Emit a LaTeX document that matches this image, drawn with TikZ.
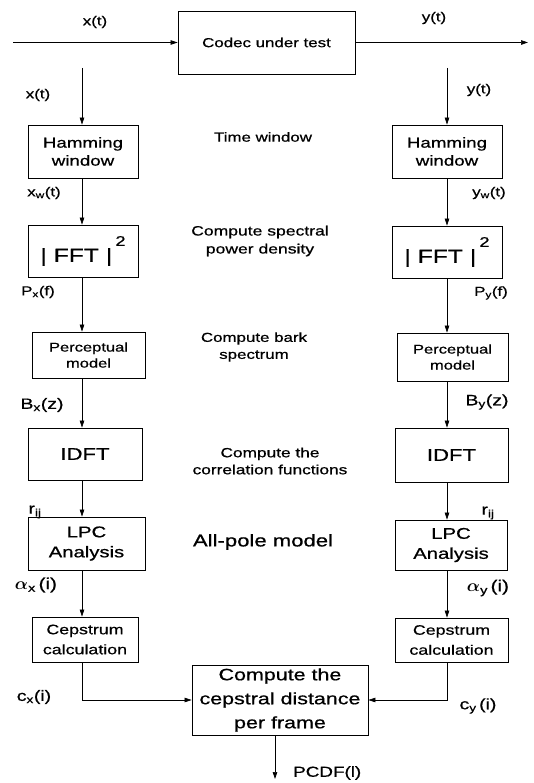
\documentclass[tikz,border=0pt]{standalone}
\usepackage{amsmath}
\usepackage{fontspec}
\setmainfont{Liberation Sans}[FakeStretch=1.3,FakeBold=0.7]
\usetikzlibrary{arrows.meta}
\newcommand\lsub[1]{$_{\textrm{#1}}$}
\newcommand\fsz[2]{\fontsize{#1}{#2}\selectfont}
\begin{document}
\begin{tikzpicture}[x=1pt,y=-1pt,
  box/.style={draw, line width=0.8pt, inner sep=0pt, align=center},
  lbl/.style={inner sep=0pt, align=center, font=\fsz{13}{17}},
  arr/.style={-{Triangle[length=7pt,width=4.5pt]}, line width=0.7pt}]
\useasboundingbox (0,0) rectangle (534,783);
% columns and free ends
\coordinate (cL) at (82,0);
\coordinate (cR) at (447,0);
\coordinate (in) at (13,42.5);
\coordinate (out) at (528,42.5);
\coordinate (tL) at (82,68);
\coordinate (tR) at (447,68);
\coordinate (oc) at (275,779);
% boxes
\node[box, minimum width=177pt, minimum height=63pt, font=\fsz{13}{16}] (codec) at (266.5,42.5) {Codec under test};
\node[box, minimum width=110pt, minimum height=53pt, font=\fsz{14.4}{18}] (hamL) at (83,151.5) {Hamming\\window};
\node[box, minimum width=110pt, minimum height=53pt, font=\fsz{14.4}{18}] (hamR) at (447,151.5) {Hamming\\window};
\node[box, minimum width=110pt, minimum height=52pt, font=\fsz{19}{22}] (fftL) at (83,251) {| FFT |\,\raisebox{16pt}{\fsz{14}{16}2}};
\node[box, minimum width=110pt, minimum height=52pt, font=\fsz{19}{22}] (fftR) at (447,252) {| FFT |\,\raisebox{16pt}{\fsz{14}{16}2}};
\node[box, minimum width=113pt, minimum height=46pt, font=\fsz{12.7}{16}] (perL) at (88.5,355) {Perceptual\\model};
\node[box, minimum width=111pt, minimum height=48pt, font=\fsz{12.7}{16}] (perR) at (452.5,357) {Perceptual\\model};
\node[box, minimum width=114pt, minimum height=52pt, font=\fsz{17}{20}] (idftL) at (85,454) {IDFT};
\node[box, minimum width=113pt, minimum height=54pt, font=\fsz{17}{20}] (idftR) at (451.5,455) {IDFT};
\node[box, minimum width=117pt, minimum height=53pt, font=\fsz{15.6}{20}] (lpcL) at (86.5,543.5) {LPC\\Analysis};
\node[box, minimum width=112pt, minimum height=50pt, font=\fsz{15.6}{20}] (lpcR) at (451,545) {LPC\\Analysis};
\node[box, minimum width=106pt, minimum height=45pt, font=\fsz{13.7}{20}] (cepL) at (85,639.5) {Cepstrum\\calculation};
\node[box, minimum width=113pt, minimum height=44pt, font=\fsz{13.7}{20}] (cepR) at (451.5,640) {Cepstrum\\calculation};
\node[box, minimum width=176pt, minimum height=70pt, font=\fsz{16.5}{24}] (comp) at (280,700) {Compute the\\cepstral distance\\per frame};
% middle descriptions
\node[lbl] (d1) at (263,137) {Time window};
\node[lbl, font=\fsz{13.5}{18}] (d2) at (260,241) {Compute spectral\\power density};
\node[lbl, font=\fsz{13}{17}] (d3) at (254,347) {Compute bark\\spectrum};
\node[lbl, font=\fsz{13.3}{17}] (d4) at (270,461) {Compute the\\correlation functions};
\node[lbl, font=\fsz{17}{20}] (d5) at (263,542) {All-pole model};
% signal labels
\node[lbl] (l1) at (95,22) {x(t)};
\node[lbl] (l2) at (434,18) {y(t)};
\node[lbl] (l3) at (38,95) {x(t)};
\node[lbl] (l4) at (479,90) {y(t)};
\node[lbl] (l5) at (44,193) {x\lsub{w}(t)};
\node[lbl] (l6) at (489,193) {y\lsub{w}(t)};
\node[lbl] (l7) at (38,292) {P\lsub{x}(f)};
\node[lbl] (l8) at (491,293) {P\lsub{y}(f)};
\node[lbl, font=\fsz{15}{18}] (l9) at (42,405) {B\lsub{x}(z)};
\node[lbl, font=\fsz{15}{18}] (l10) at (487,402) {B\lsub{y}(z)};
\node[lbl, font=\fsz{15}{18}] (l11) at (35,512) {r\lsub{ij}};
\node[lbl, font=\fsz{15}{18}] (l12) at (488,513) {r\lsub{ij}};
\node[lbl, font=\fsz{16}{18}] (l13) at (36,585) {$\boldsymbol{\alpha}$\lsub{x}\,(i)};
\node[lbl, font=\fsz{16}{18}] (l14) at (488,588) {$\boldsymbol{\alpha}$\lsub{y}\,(i)};
\node[lbl, font=\fsz{15}{18}] (l15) at (34,697) {c\lsub{x}(i)};
\node[lbl, font=\fsz{15}{18}] (l16) at (478,706) {c\lsub{y}\,(i)};
\node[lbl, font=\fsz{14.5}{18}, anchor=west] (l17) at (293,773) {PCDF(l)};
% connectors
\draw[arr] (in) -- (codec.west);
\draw[arr] (codec.east) -- (out);
\draw[arr] (tL) -- (tL |- hamL.north);
\draw[arr] (tR) -- (tR |- hamR.north);
\draw[arr] (cL |- hamL.south) -- (cL |- fftL.north);
\draw[arr] (cR |- hamR.south) -- (cR |- fftR.north);
\draw[arr] (cL |- fftL.south) -- (cL |- perL.north);
\draw[arr] (cR |- fftR.south) -- (cR |- perR.north);
\draw[arr] (cL |- perL.south) -- (cL |- idftL.north);
\draw[arr] (cR |- perR.south) -- (cR |- idftR.north);
\draw[arr] (cL |- idftL.south) -- (cL |- lpcL.north);
\draw[arr] (cR |- idftR.south) -- (cR |- lpcR.north);
\draw[arr] (cL |- lpcL.south) -- (cL |- cepL.north);
\draw[arr] (cR |- lpcR.south) -- (cR |- cepR.north);
\draw[arr] (cL |- cepL.south) |- (comp.west);
\draw[arr] (cR |- cepR.south) |- (comp.east);
\draw[arr] (oc |- comp.south) -- (oc);
\end{tikzpicture}
\end{document}
